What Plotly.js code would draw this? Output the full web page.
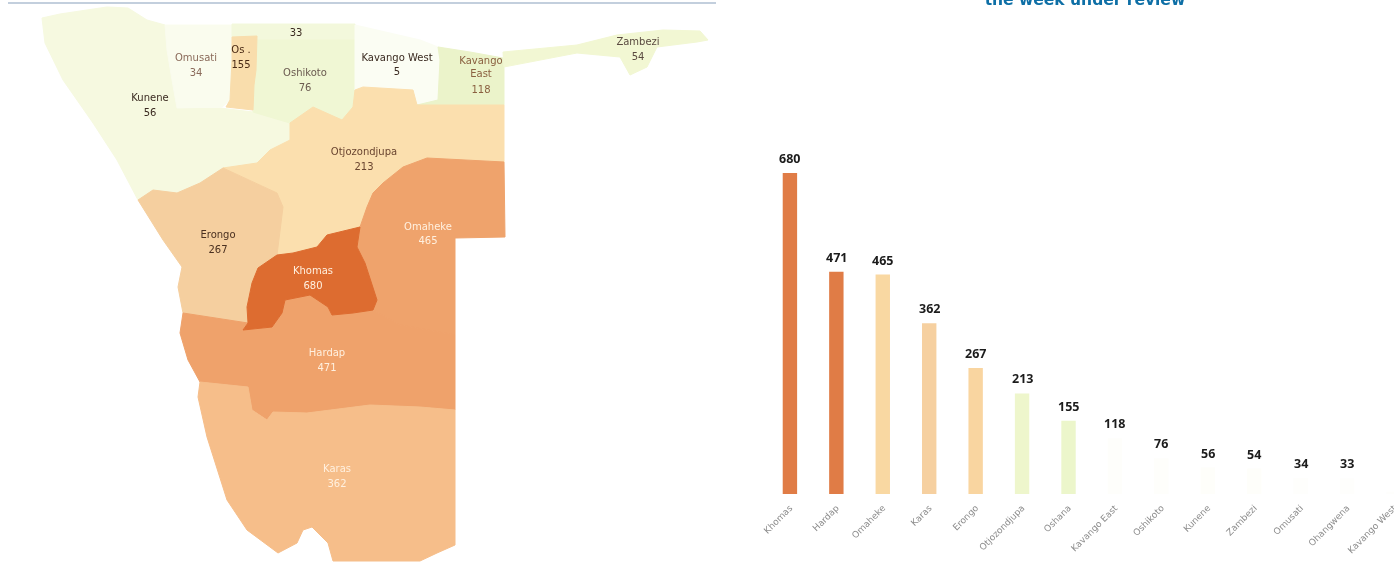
<!DOCTYPE html>
<html>
<head>
<meta charset="utf-8">
<script src="https://cdn.plot.ly/plotly-3.0.1.min.js"></script>
<style>html,body{margin:0;padding:0;background:#fff;overflow:hidden}#chart{width:1394px;height:562px;filter:blur(0.6px)}</style>
</head>
<body>
<div id="chart"></div>
<script>
// Bar chart data
const categories = ["Khomas","Hardap","Omaheke","Karas","Erongo","Otjozondjupa","Oshana","Kavango East","Oshikoto","Kunene","Zambezi","Omusati","Ohangwena","Kavango West"];
const values = [680,471,465,362,267,213,155,118,76,56,54,34,33,5];
const barColors = ["#E07C46","#E07C46","#F9D8A2","#F6D0A0","#F9D5A0","#EEF6CC","#ECF6CB","#FEFEFB","#FEFEFB","#FEFEFA","#FEFEFA","#FEFEFC","#FEFEFC","#FEFEFC"];

// Map outlines (map units)
const kuneneOutline = [[42,18],[60,14],[107,7],[128,8],[147,20],[165,25],[167,50],[172,80],[177,108],[220,108],[253,112],[290,122],[290,140],[270,150],[257,163],[223,168],[200,183],[177,193],[153,190],[138,200],[117,160],[93,123],[63,80],[45,43]];
const omusatiOutline = [[165,25],[235,25],[232,60],[230,100],[222,107],[177,108],[172,80],[167,50]];
const ohangwenaOutline = [[232,24],[355,24],[355,40],[257,42],[232,37]];
const oshanaOutline = [[232,37],[257,36],[256,70],[254,85],[253,110],[226,107],[230,100],[232,60]];
const oshikotoOutline = [[257,40],[355,40],[355,90],[353,107],[342,120],[313,107],[290,123],[253,112],[254,85],[256,70]];
const kavangoWestOutline = [[355,25],[420,40],[438,47],[440,60],[438,100],[417,105],[413,90],[363,87],[355,90]];
const kavangoEastOutline = [[438,47],[470,52],[503,58],[504,67],[504,105],[417,105],[438,100],[440,60]];
const zambeziOutline = [[503,52],[577,45],[617,35],[663,30],[700,31],[708,40],[697,42],[657,47],[647,67],[630,75],[620,57],[577,53],[504,67]];
const otjozondjupaOutline = [[290,123],[313,107],[342,120],[353,107],[355,90],[363,87],[413,90],[417,105],[504,105],[504,162],[470,160],[427,158],[403,167],[383,183],[373,193],[367,207],[360,227],[327,235],[317,247],[293,253],[277,255],[283,207],[277,193],[223,168],[257,163],[270,150],[290,140]];
const erongoOutline = [[138,200],[153,190],[177,193],[200,183],[223,168],[277,193],[283,207],[277,255],[258,268],[252,283],[247,307],[248,323],[183,313],[178,287],[182,267],[163,240]];
const khomasOutline = [[360,227],[357,247],[365,263],[377,300],[373,310],[353,313],[332,315],[328,307],[310,295],[285,300],[282,313],[272,327],[243,330],[248,323],[247,307],[252,283],[258,268],[277,255],[293,253],[317,247],[327,235]];
const omahekeOutline = [[427,158],[470,160],[504,162],[505,237],[455,238],[455,335],[400,325],[373,310],[377,300],[365,263],[357,247],[360,227],[367,207],[373,193],[383,183],[403,167]];
const hardapOutline = [[183,313],[180,333],[188,360],[200,382],[248,387],[252,410],[267,420],[273,412],[307,413],[370,405],[420,407],[455,410],[455,335],[400,325],[373,310],[353,313],[332,315],[328,307],[310,295],[285,300],[282,313],[272,327],[243,330],[248,323]];
const karasOutline = [[200,382],[198,397],[207,437],[215,463],[227,500],[247,530],[278,553],[297,543],[303,530],[312,527],[320,535],[328,543],[333,561],[420,561],[437,553],[455,545],[455,410],[420,407],[370,405],[307,413],[273,412],[267,420],[252,410],[248,387]];

const mapOutlines = [kuneneOutline,omusatiOutline,ohangwenaOutline,oshikotoOutline,oshanaOutline,kavangoWestOutline,kavangoEastOutline,zambeziOutline,otjozondjupaOutline,erongoOutline,omahekeOutline,hardapOutline,khomasOutline,karasOutline];
const mapNames = ["Kunene","Omusati","Ohangwena","Oshikoto","Oshana","Kavango West","Kavango East","Zambezi","Otjozondjupa","Erongo","Omaheke","Hardap","Khomas","Karas"];
const mapColors = ["#F6F9E0","#FAFCEE","#F3F8DC","#F0F7D4","#F9DDAC","#FBFDF3","#EBF3CA","#F2F7D3","#FBDFAE","#F5CF9F","#EFA36C","#EFA26B","#DD6C30","#F6BE8A"];

// Map labels
const labelNames = ["Kunene","Omusati","Os .","Oshikoto","Kavango West","Kavango<br>East","Zambezi","Otjozondjupa","Erongo","Omaheke","Khomas","Hardap","Karas"];
const labelRegions = ["Kunene","Omusati","Oshana","Oshikoto","Kavango West","Kavango East","Zambezi","Otjozondjupa","Erongo","Omaheke","Khomas","Hardap","Karas"];
const labelX = [150,196,241,305,397,481,638,364,218,428,313,327,337];
const nameY = [98,58,50,73,58,68,42,152,235,227,271,353,469];
const valueY = [113,73,65,88,72,90,57,167,250,241,286,368,484];
const labelColors = ["#3a2a20","#8a6a5a","#4a2a15","#6a5a50","#3a2a20","#8a6040","#5a4a40","#6a4530","#4a3020","#FFF0DF","#FFF0DF","#FFF0DF","#FFF0DF"];
const valueOnlyLabel = "Ohangwena";
const valueOnlyX = 296, valueOnlyY = 33;

const fontFace = "DejaVu Sans, sans-serif";
const traces = [];

mapOutlines.forEach(function(o,i){
  const xs = o.map(function(p){return p[0];}); xs.push(o[0][0]);
  const ys = o.map(function(p){return p[1];}); ys.push(o[0][1]);
  traces.push({type:"scatter",mode:"lines",x:xs,y:ys,xaxis:"x2",yaxis:"y2",fill:"toself",fillcolor:mapColors[i],
    line:{color:mapColors[i],width:1},name:mapNames[i],hoverinfo:"name",showlegend:false});
});
function valueOf(name){return values[categories.indexOf(name)];}
traces.push({type:"scatter",mode:"text",x:labelX,y:nameY,text:labelNames,xaxis:"x2",yaxis:"y2",
  textposition:"middle center",textfont:{family:fontFace,size:10,color:labelColors},hoverinfo:"skip",showlegend:false});
traces.push({type:"scatter",mode:"text",x:labelX.concat([valueOnlyX]),y:valueY.concat([valueOnlyY]),
  text:labelRegions.map(valueOf).concat([valueOf(valueOnlyLabel)]),xaxis:"x2",yaxis:"y2",
  textposition:"middle center",textfont:{family:fontFace,size:10,color:labelColors.concat(["#3a2a20"])},hoverinfo:"skip",showlegend:false});

traces.push({type:"bar",x:categories,y:values,width:0.31,marker:{color:barColors,line:{width:0}},hoverinfo:"x+y",showlegend:false,cliponaxis:false});

const annotations = categories.map(function(c,i){
  return {x:c,y:values[i],xref:"x",yref:"y",text:String(values[i]),showarrow:false,yanchor:"bottom",yshift:4,
    font:{family:"Open Sans, sans-serif",size:12.5,color:"#1c1c1c",weight:700}};
}).slice(0,13);

const layout = {
  width:1394,height:562,margin:{l:0,r:0,t:0,b:0},paper_bgcolor:"#fff",plot_bgcolor:"rgba(0,0,0,0)",
  title:{text:"the week under review",font:{family:"DejaVu Sans, sans-serif",size:15.5,color:"#0E6FA6",weight:700},
    x:0.7783,xanchor:"center",xref:"paper",y:1.0,yanchor:"middle",yref:"paper"},
  showlegend:false,
  xaxis:{type:"category",categoryorder:"array",categoryarray:categories,domain:[0.55,1],range:[-0.5,13.01],anchor:"y",
    showgrid:false,zeroline:false,showline:false,ticks:"",tickangle:-45,ticklabelstandoff:6,
    tickfont:{family:fontFace,size:9,color:"#8c8c8c"},fixedrange:true,automargin:false},
  yaxis:{domain:[0.121,0.692],range:[0,680],visible:false,fixedrange:true},
  xaxis2:{domain:[0,1],range:[0,1394],visible:false,fixedrange:true,anchor:"y2"},
  yaxis2:{domain:[0,1],range:[562,0],visible:false,fixedrange:true,anchor:"x2"},
  annotations:annotations,
  shapes:[{type:"line",xref:"paper",yref:"paper",x0:8/1394,x1:716/1394,y0:1-3/562,y1:1-3/562,line:{color:"#C3CFDD",width:2}}]
};
Plotly.newPlot("chart",traces,layout,{displayModeBar:false,staticPlot:false});
</script>
</body>
</html>
